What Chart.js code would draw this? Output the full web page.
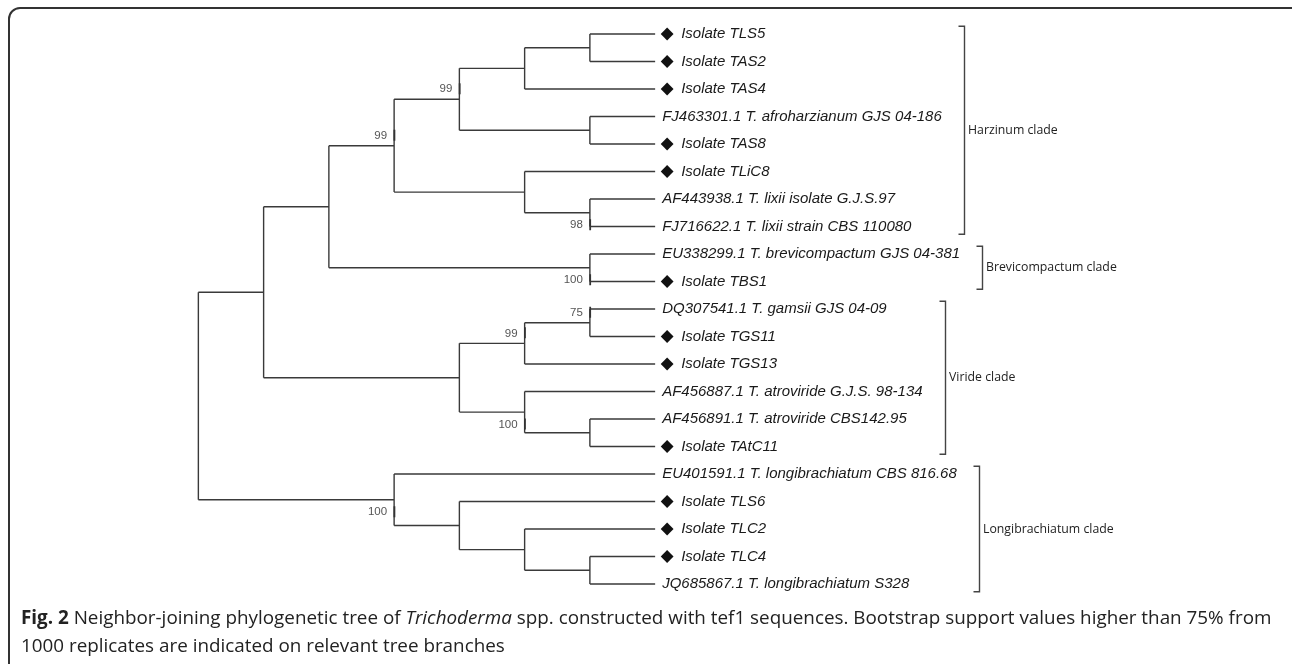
<!DOCTYPE html>
<html>
<head>
<meta charset="utf-8">
<script src="https://cdn.jsdelivr.net/npm/chart.js@4.4.1/dist/chart.umd.min.js"></script>
<style>
  html, body { margin: 0; padding: 0; background: #fff; overflow: hidden; }
  #wrap { position: relative; width: 1292px; height: 664px; }
  #frame {
    position: absolute; left: 8px; top: 7px; width: 1300px; height: 670px;
    border: 2px solid #333; border-radius: 12px; box-sizing: border-box;
  }
  #cap {
    position: absolute; left: 21px; top: 603px; white-space: nowrap;
    font: 18.85px "Open Sans", sans-serif; line-height: 28px; color: #222;
  }
  canvas { position: absolute; left: 0; top: 0; }
</style>
</head>
<body>
<div id="wrap">
  <div id="frame"></div>
  <canvas id="myChart" width="1292" height="664"></canvas>
  <div id="cap"><b>Fig. 2</b> Neighbor-joining phylogenetic tree of <i>Trichoderma</i> spp. constructed with tef1 sequences. Bootstrap support values higher than 75% from<br>1000 replicates are indicated on relevant tree branches</div>
</div>
<script>
// leaves, top to bottom
const leafNames = [
  'Isolate TLS5', 'Isolate TAS2', 'Isolate TAS4', 'FJ463301.1 T. afroharzianum GJS 04-186',
  'Isolate TAS8', 'Isolate TLiC8', 'AF443938.1 T. lixii isolate G.J.S.97', 'FJ716622.1 T. lixii strain CBS 110080',
  'EU338299.1 T. brevicompactum GJS 04-381', 'Isolate TBS1',
  'DQ307541.1 T. gamsii GJS 04-09', 'Isolate TGS11', 'Isolate TGS13',
  'AF456887.1 T. atroviride G.J.S. 98-134', 'AF456891.1 T. atroviride CBS142.95', 'Isolate TAtC11',
  'EU401591.1 T. longibrachiatum CBS 816.68', 'Isolate TLS6', 'Isolate TLC2', 'Isolate TLC4',
  'JQ685867.1 T. longibrachiatum S328'
];
// leaves marked with a diamond (own isolates)
const leafMarked = [1,1,1,0,1,1,0,0,0,1,0,1,1,0,0,1,0,1,1,1,0];
const tipDepth = 7;

// internal nodes: depth (cladogram level) and children (number = leaf, string = node)
const nodeIds   = ['A','B','C','D','E','F','G','H','I','J','K','L','M','N','O','P','Q','R','S','root'];
const nodeDepth = [6, 5, 6, 4, 6, 5, 3, 6, 2, 6, 5, 6, 5, 4, 1, 6, 5, 4, 3, 0];
const nodeKids  = [[0,1],['A',2],[3,4],['B','C'],[6,7],[5,'E'],['D','F'],[8,9],['G','H'],
                   [10,11],['J',12],[14,15],[13,'L'],['K','M'],['I','N'],
                   [19,20],[18,'P'],[17,'Q'],[16,'R'],['O','S']];
// bootstrap values (null = not shown), and which side of the node they sit (-1 above, 1 below)
const nodeBoot  = [null,null,null,99,98,null,99,100,null,75,99,null,100,null,null,null,null,null,100,null];
const bootSide  = [0,0,0,-1,1,0,-1,1,0,-1,-1,0,1,0,0,0,0,0,1,0];

// clades
const cladeNames = ['Harzinum clade', 'Brevicompactum clade', 'Viride clade', 'Longibrachiatum clade'];
const cladeFirst = [0, 8, 10, 16];
const cladeLast  = [7, 9, 15, 20];

// node positions in data units
const pos = {};
function place(id) {
  if (typeof id === 'number') return { x: tipDepth, y: id };
  if (pos[id]) return pos[id];
  const i = nodeIds.indexOf(id);
  const kids = nodeKids[i].map(place);
  pos[id] = { x: nodeDepth[i], y: (kids[0].y + kids[kids.length - 1].y) / 2, kids: kids };
  return pos[id];
}
place('root');

// branch segments, broken with null points
const branches = [];
nodeIds.forEach(id => {
  const n = pos[id];
  const top = n.kids[0], bot = n.kids[n.kids.length - 1];
  branches.push({ x: n.x, y: top.y }, { x: n.x, y: bot.y }, { x: null, y: null });
  n.kids.forEach(k => {
    branches.push({ x: n.x, y: k.y }, { x: k.x, y: k.y }, { x: null, y: null });
  });
});

const labelFont = 'italic 15px "Liberation Sans", Arial, sans-serif';

const treeText = {
  id: 'treeText',
  afterDatasetsDraw(chart) {
    const ctx = chart.ctx;
    const xs = chart.scales.x, ys = chart.scales.y;
    const tipX = xs.getPixelForValue(tipDepth);
    ctx.save();
    ctx.textBaseline = 'middle';

    // leaf labels + diamonds
    const ends = [];
    ctx.font = labelFont;
    leafNames.forEach((name, i) => {
      const py = ys.getPixelForValue(i);
      let tx = tipX + 7;
      if (leafMarked[i]) {
        const cx = tipX + 12, r = 6.4;
        ctx.fillStyle = '#111';
        ctx.beginPath();
        ctx.moveTo(cx - r, py); ctx.lineTo(cx, py - r); ctx.lineTo(cx + r, py); ctx.lineTo(cx, py + r);
        ctx.closePath(); ctx.fill();
        tx = tipX + 26;
      }
      ctx.fillStyle = '#1a1a1a';
      ctx.textAlign = 'left';
      ctx.fillText(name, tx, py);
      ends.push(tx + ctx.measureText(name).width);
    });

    // bootstrap values
    ctx.font = '11.5px "Liberation Sans", Arial, sans-serif';
    ctx.fillStyle = '#555';
    ctx.textAlign = 'right';
    nodeIds.forEach((id, i) => {
      if (nodeBoot[i] == null) return;
      const px = xs.getPixelForValue(pos[id].x);
      const py = ys.getPixelForValue(pos[id].y);
      const ly = py + (bootSide[i] < 0 ? -10 : 12.5);
      ctx.fillText(String(nodeBoot[i]), px - 7, ly);
      ctx.strokeStyle = '#333';
      ctx.lineWidth = 1.8;
      ctx.beginPath();
      ctx.moveTo(px + 0.3, ly - 6); ctx.lineTo(px + 0.3, ly + 5);
      ctx.stroke();
    });

    // clade brackets
    ctx.font = '12.3px "Open Sans", sans-serif';
    ctx.textAlign = 'left';
    ctx.strokeStyle = '#444';
    ctx.lineWidth = 1.4;
    cladeNames.forEach((name, c) => {
      let maxEnd = 0;
      for (let i = cladeFirst[c]; i <= cladeLast[c]; i++) maxEnd = Math.max(maxEnd, ends[i]);
      const bx = Math.round(maxEnd + 22) + 0.5;
      const y0 = ys.getPixelForValue(cladeFirst[c] - 0.28);
      const y1 = ys.getPixelForValue(cladeLast[c] + 0.28);
      ctx.beginPath();
      ctx.moveTo(bx - 6, y0); ctx.lineTo(bx, y0); ctx.lineTo(bx, y1); ctx.lineTo(bx - 6, y1);
      ctx.stroke();
      ctx.fillStyle = '#222';
      ctx.fillText(name, bx + 3.5, (y0 + y1) / 2);
    });
    ctx.restore();
  }
};

const canva = document.getElementById('myChart').getContext('2d');
const myChart = new Chart(canva, {
  type: 'scatter',
  data: {
    datasets: [{
      label: 'branches',
      data: branches,
      showLine: true,
      spanGaps: false,
      borderColor: '#3a3a3a',
      borderWidth: 1.4,
      pointRadius: 0,
      pointHoverRadius: 0
    }]
  },
  options: {
    responsive: false,
    animation: false,
    events: [],
    layout: { padding: 0 },
    plugins: { legend: { display: false }, tooltip: { enabled: false } },
    scales: {
      x: { type: 'linear', min: -3.04, max: 16.76, display: false },
      y: { type: 'linear', min: -1.236, max: 22.909, reverse: true, display: false }
    }
  },
  plugins: [treeText]
});
</script>
</body>
</html>
